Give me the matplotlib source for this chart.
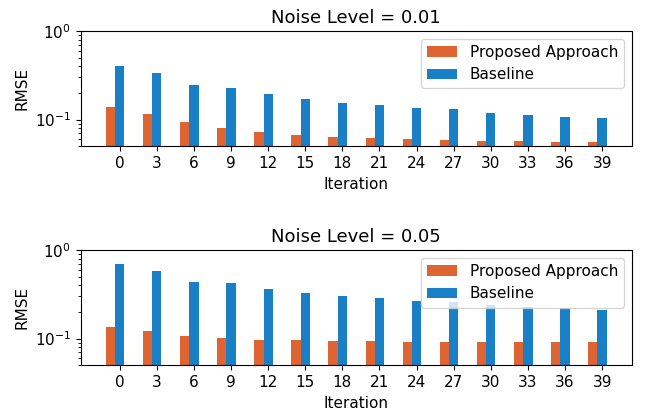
import numpy as np
import matplotlib
matplotlib.use("Agg")
import matplotlib.pyplot as plt

# --- data ---
iterations = [0, 3, 6, 9, 12, 15, 18, 21, 24, 27, 30, 33, 36, 39]
noise_levels = [0.01, 0.05]

proposed_001 = [0.138, 0.115, 0.093, 0.080, 0.072, 0.067, 0.063, 0.062, 0.060, 0.059, 0.058, 0.057, 0.056, 0.056]
baseline_001 = [0.404, 0.335, 0.247, 0.225, 0.193, 0.171, 0.155, 0.145, 0.134, 0.131, 0.119, 0.114, 0.107, 0.104]

proposed_005 = [0.136, 0.122, 0.106, 0.101, 0.0975, 0.0958, 0.0933, 0.093, 0.0918, 0.091, 0.091, 0.0905, 0.0905, 0.0905]
baseline_005 = [0.70, 0.58, 0.44, 0.42, 0.36, 0.33, 0.30, 0.284, 0.265, 0.26, 0.239, 0.227, 0.221, 0.212]

proposed = [proposed_001, proposed_005]
baseline = [baseline_001, baseline_005]

c_prop = '#DE6431'
c_base = '#1A80C5'

plt.rcParams['font.size'] = 11

fig, axes = plt.subplots(2, 1, figsize=(6.46, 4.13), dpi=100)
fig.subplots_adjust(left=0.125, right=0.978, top=0.925, bottom=0.1155, hspace=0.9)

x = np.arange(len(iterations))
width = 0.25

for ax, noise, p, b in zip(axes, noise_levels, proposed, baseline):
    ax.bar(x - width, p, width, color=c_prop, label='Proposed Approach')
    ax.bar(x, b, width, color=c_base, label='Baseline')
    ax.set_yscale('log')
    ax.set_ylim(0.05, 1)
    ax.set_xticks(x)
    ax.set_xticklabels([str(i) for i in iterations])
    ax.set_xlabel('Iteration')
    ax.set_ylabel('RMSE')
    ax.set_title(f'Noise Level = {noise}', fontsize=13)
    ax.legend(loc='upper right', fontsize=11)

fig.savefig('out.png', dpi=100)
